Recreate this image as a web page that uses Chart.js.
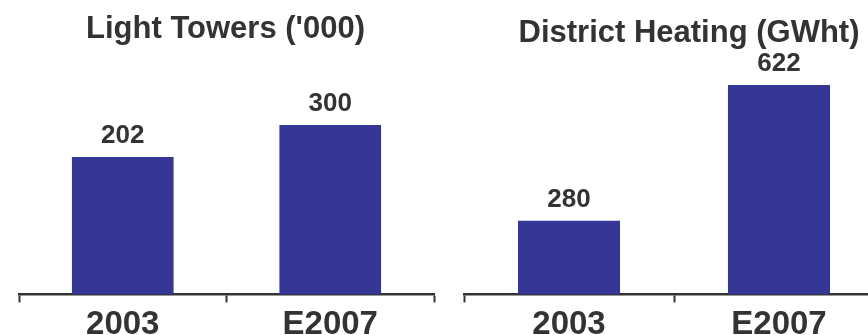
<!DOCTYPE html>
<html>
<head>
<meta charset="utf-8">
<script src="https://cdn.jsdelivr.net/npm/chart.js@4/dist/chart.umd.min.js"></script>
<style>
  html, body { margin: 0; padding: 0; background: #ffffff; overflow: hidden; width: 868px; height: 335px; }
  #wrap { position: relative; width: 868px; height: 335px; overflow: hidden; }
  canvas { position: absolute; top: 0; }
  #c1 { left: 0px; }
  #c2 { left: 448px; }
</style>
</head>
<body>
<div id="wrap">
  <canvas id="c1" width="456" height="348"></canvas>
  <canvas id="c2" width="458" height="348"></canvas>
</div>
<script>
// ---- data ----
const categories = ["2003", "E2007"];
const lightTowers = [202, 300];
const districtHeating = [280, 622];
const titles = ["Light Towers ('000)", "District Heating (GWht)"];

const barColor = '#363696';
const textColor = '#333333';

// draws panel title and value labels using the library's bar elements
const annotate = {
  id: 'annotate',
  afterDatasetsDraw(chart, args, opts) {
    const ctx = chart.ctx;
    const area = chart.chartArea;
    ctx.save();
    ctx.fillStyle = textColor;
    ctx.textAlign = 'center';
    ctx.textBaseline = 'alphabetic';
    // title
    ctx.font = 'bold 31px "Liberation Sans", Arial, sans-serif';
    ctx.fillText(opts.title, (area.left + area.right) / 2 + opts.titleDx, opts.titleY);
    // value labels
    ctx.font = 'bold 26px "Liberation Sans", Arial, sans-serif';
    const meta = chart.getDatasetMeta(0);
    const data = chart.data.datasets[0].data;
    meta.data.forEach((bar, i) => {
      ctx.fillText(String(data[i]), bar.x, bar.y - 14);
    });
    ctx.restore();
  }
};

function makeChart(id, values, title, yMin, yMax, titleDx, titleY, padL, padR, barPct) {
  return new Chart(document.getElementById(id), {
    type: 'bar',
    data: {
      labels: categories,
      datasets: [{
        data: values,
        backgroundColor: barColor,
        borderWidth: 0,
        base: yMin,
        categoryPercentage: 1.0,
        barPercentage: barPct
      }]
    },
    plugins: [annotate],
    options: {
      responsive: false,
      animation: false,
      events: [],
      layout: { padding: { left: padL, right: padR, top: 60, bottom: 0 } },
      plugins: {
        legend: { display: false },
        tooltip: { enabled: false },
        title: { display: false },
        annotate: { title: title, titleDx: titleDx, titleY: titleY }
      },
      scales: {
        x: {
          grid: {
            display: true,
            drawOnChartArea: false,
            drawTicks: true,
            tickLength: 8,
            tickWidth: 2,
            tickColor: textColor,
            offset: true
          },
          border: { display: true, color: textColor, width: 2.5 },
          ticks: {
            color: textColor,
            padding: 3,
            font: { family: '"Liberation Sans", Arial, sans-serif', size: 33, weight: 'bold' }
          }
        },
        y: {
          display: false,
          min: yMin,
          max: yMax
        }
      }
    }
  });
}

makeChart('c1', lightTowers, titles[0], -220, 500, -1, 38, 19, 22, 0.49);
makeChart('c2', districtHeating, titles[1], 94, 685, 15, 42, 16, 22, 0.486);
</script>
</body>
</html>
